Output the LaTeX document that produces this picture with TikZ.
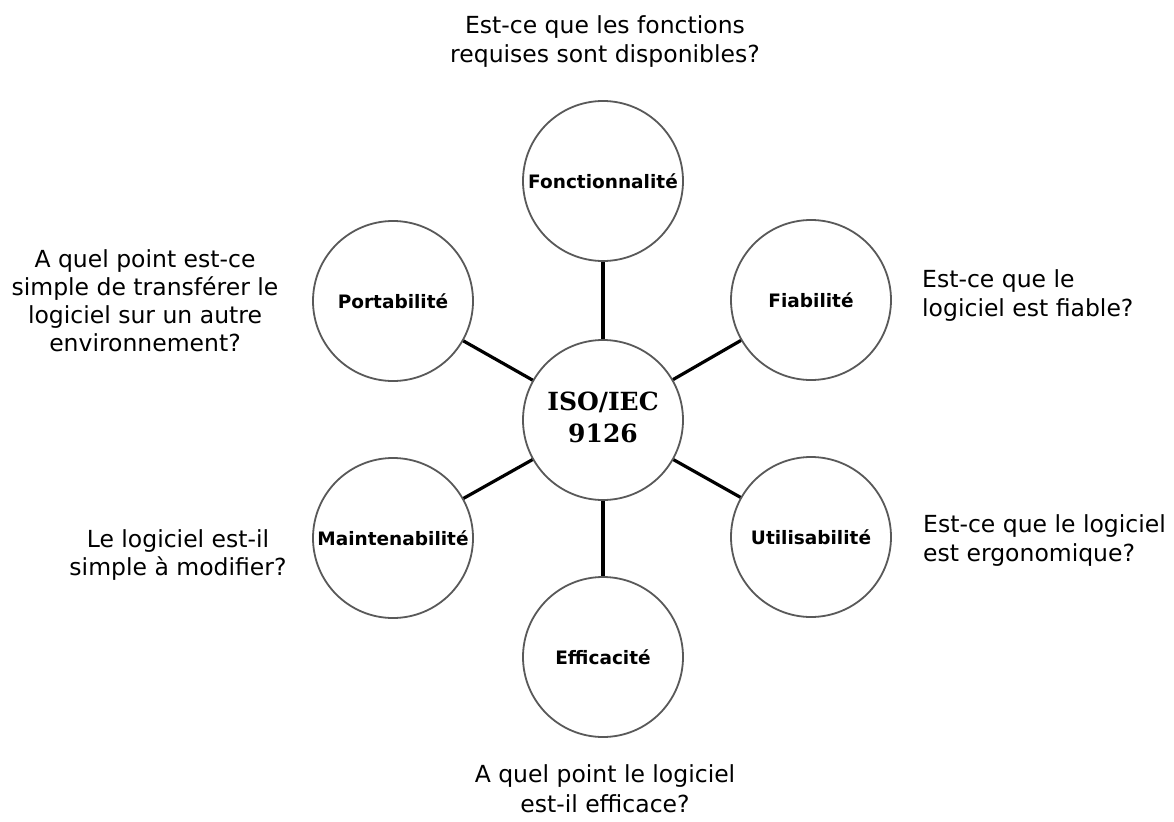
\documentclass[tikz,border=0pt]{standalone}
\usepackage{fontspec}
\setmainfont{DejaVu Sans}
\newfontfamily\labfont{DejaVu Sans}
\newfontfamily\isofont{DejaVu Serif}
\begin{document}
\begin{tikzpicture}[x=1pt,y=-1pt,
  bubble/.style={circle,draw=black!65,line width=1.8pt,minimum size=160pt,inner sep=0pt,
     font=\labfont\bfseries\fontsize{18.5}{22}\selectfont},
  link/.style={line width=3.2pt,black},
  question/.style={inner sep=0pt,font=\fontsize{23.5}{29}\selectfont}]
\useasboundingbox[fill=white] (0,0) rectangle (1174,821);
\node[bubble] (c) at (603,420) {\isofont\bfseries\fontsize{25}{34}\selectfont\begin{tabular}{@{}c@{}}ISO/IEC\\[-2pt]9126\end{tabular}};
\node[bubble] (fo) at (603,181) {Fonctionnalité};
\node[bubble] (fi) at (811,300) {Fiabilité};
\node[bubble] (ut) at (811,537) {Utilisabilité};
\node[bubble] (ef) at (603,657) {Efficacité};
\node[bubble] (ma) at (393,538) {Maintenabilité};
\node[bubble] (po) at (393,301) {Portabilité};
\foreach \n in {fo,fi,ut,ef,ma,po} \draw[link] (c) -- (\n);
\node[question,align=center] (qfo) at (605,42) {Est-ce que les fonctions\\requises sont disponibles?};
\node[question,align=center,font=\fontsize{23.5}{28}\selectfont] (qpo) at (145,301) {A quel point est-ce\\simple de transférer le\\logiciel sur un autre\\environnement?};
\node[question,align=left,anchor=west] (qfi) at (922,296) {Est-ce que le\\logiciel est fiable?};
\node[question,align=center,font=\fontsize{23.5}{28}\selectfont] (qma) at (178,555) {Le logiciel est-il\\simple à modifier?};
\node[question,align=left,anchor=west] (qut) at (923,541) {Est-ce que le logiciel\\est ergonomique?};
\node[question,align=center,font=\fontsize{23.5}{30}\selectfont] (qef) at (605,789) {A quel point le logiciel\\est-il efficace?};
\end{tikzpicture}
\end{document}
